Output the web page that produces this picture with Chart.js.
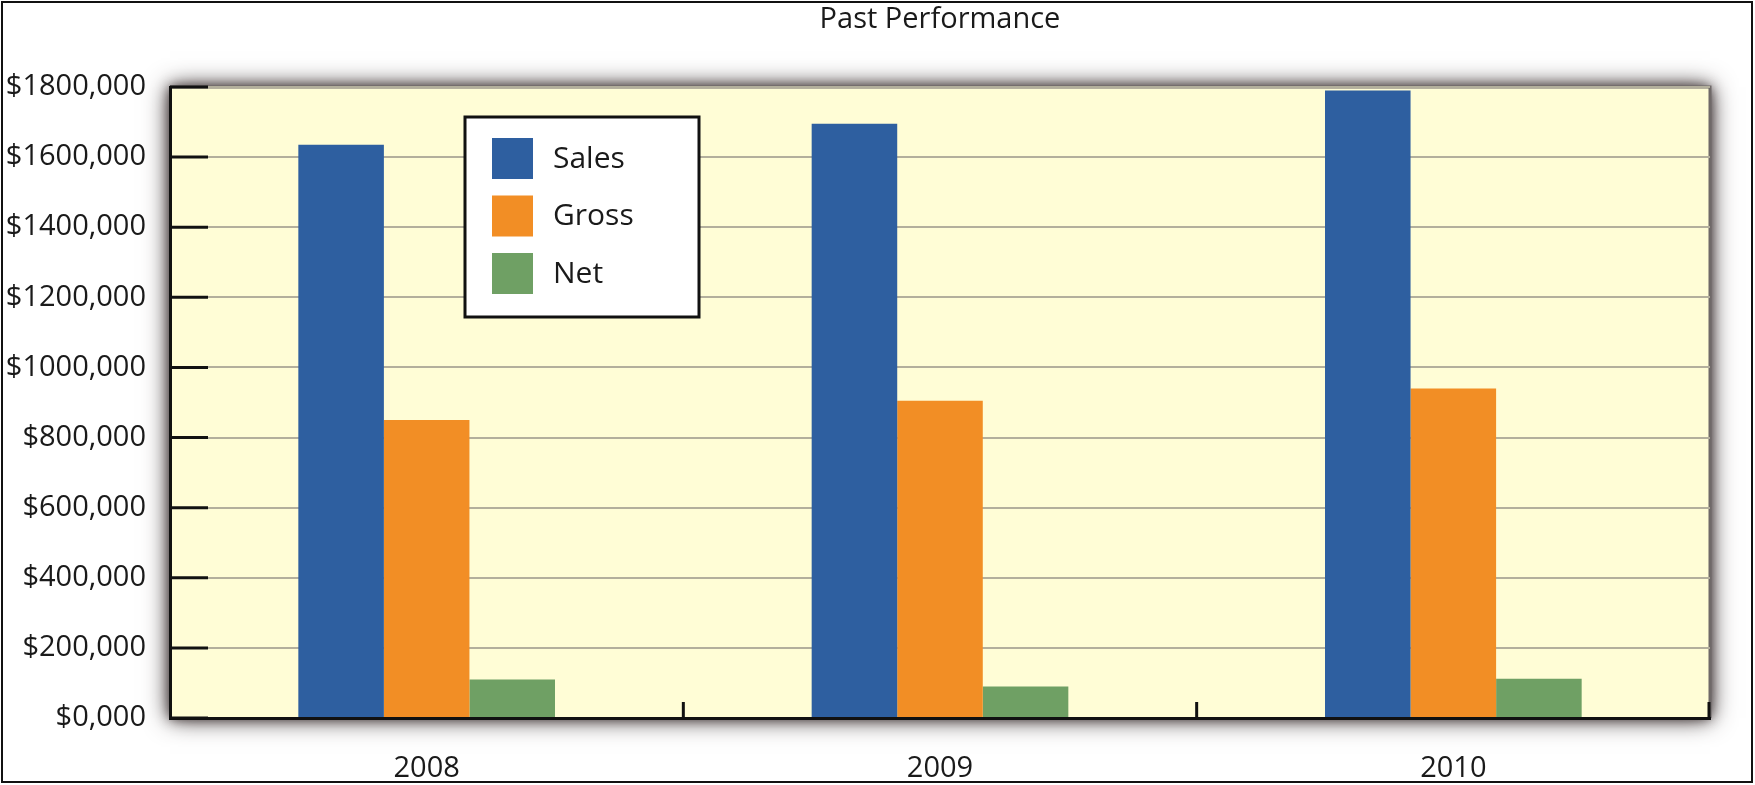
<!DOCTYPE html>
<html>
<head>
<meta charset="utf-8">
<script src="https://cdn.jsdelivr.net/npm/chart.js@4/dist/chart.umd.min.js"></script>
<style>
  html, body { margin: 0; padding: 0; background: #fff; }
  canvas { display: block; }
</style>
</head>
<body>
<canvas id="bar-chart" width="1755" height="785"></canvas>
<script>
const years = ['2008', '2009', '2010'];
const sales = [1635000, 1695000, 1790000];
const gross = [850000, 905000, 940000];
const net = [110000, 90000, 112000];
const yTickLabels = ['$0,000', '$200,000', '$400,000', '$600,000', '$800,000',
  '$1000,000', '$1200,000', '$1400,000', '$1600,000', '$1800,000'];
const chartTitle = 'Past Performance';

const FONT = "'Open Sans', 'DejaVu Sans', sans-serif";
const TEXT = '#1a1a1a';

// plot background with the grey glow, title over the plot, inside ticks, legend box, frame
const decorPlugin = {
  id: 'decor',
  beforeDraw(chart) {
    const { ctx, chartArea: a } = chart;
    ctx.save();
    ctx.fillStyle = '#FFFDD6';
    ctx.shadowColor = 'rgba(60, 50, 50, 1)';
    ctx.shadowBlur = 24;
    ctx.fillRect(a.left, a.top, a.right - a.left, a.bottom - a.top);
    ctx.shadowBlur = 12;
    ctx.fillRect(a.left, a.top, a.right - a.left, a.bottom - a.top);
    ctx.shadowBlur = 0;
    ctx.strokeStyle = '#6f6968';
    ctx.lineWidth = 3;
    ctx.beginPath();
    ctx.moveTo(a.left, a.top);
    ctx.lineTo(a.right, a.top);
    ctx.lineTo(a.right, a.bottom);
    ctx.stroke();
    ctx.restore();
  },
  afterDraw(chart) {
    const { ctx, chartArea: a, scales } = chart;
    ctx.save();

    // title, centred over the plot area
    ctx.fillStyle = TEXT;
    ctx.font = '29px ' + FONT;
    ctx.textAlign = 'center';
    ctx.textBaseline = 'middle';
    ctx.fillText(chartTitle, (a.left + a.right) / 2, 20);

    ctx.strokeStyle = '#111';
    ctx.lineWidth = 3;
    // y ticks drawn inwards
    scales.y.ticks.forEach(t => {
      const y = scales.y.getPixelForValue(t.value);
      ctx.beginPath();
      ctx.moveTo(a.left, y);
      ctx.lineTo(a.left + 38, y);
      ctx.stroke();
    });
    // category boundary ticks
    const step = scales.x.getPixelForValue(1) - scales.x.getPixelForValue(0);
    years.forEach((_, i) => {
      const x = Math.min(scales.x.getPixelForValue(i) + step / 2, a.right - 1);
      ctx.beginPath();
      ctx.moveTo(x, a.bottom);
      ctx.lineTo(x, a.bottom - 16);
      ctx.stroke();
    });

    // legend
    const lx = a.left + 295, ly = a.top + 30;
    ctx.fillStyle = '#fff';
    ctx.fillRect(lx, ly, 234, 200);
    ctx.strokeStyle = '#111';
    ctx.lineWidth = 3;
    ctx.strokeRect(lx, ly, 234, 200);
    ctx.font = '30px ' + FONT;
    ctx.textAlign = 'left';
    ctx.textBaseline = 'middle';
    chart.data.datasets.forEach((ds, i) => {
      const sy = ly + 21 + i * 57.5;
      ctx.fillStyle = ds.backgroundColor;
      ctx.fillRect(lx + 27, sy, 41, 41);
      ctx.fillStyle = TEXT;
      ctx.fillText(ds.label, lx + 88, sy + 21);
    });

    // outer frame
    ctx.lineWidth = 2;
    ctx.strokeStyle = '#111';
    ctx.strokeRect(2, 2, 1750, 780);
    ctx.restore();
  }
};

new Chart(document.getElementById('bar-chart'), {
  type: 'bar',
  data: {
    labels: years,
    datasets: [
      { label: 'Sales', data: sales, backgroundColor: '#2E5FA0' },
      { label: 'Gross', data: gross, backgroundColor: '#F28E25' },
      { label: 'Net', data: net, backgroundColor: '#6FA064' }
    ]
  },
  options: {
    responsive: false,
    animation: false,
    layout: { padding: { left: 0, right: 45, top: 87, bottom: 0 } },
    datasets: {
      bar: { categoryPercentage: 0.5, barPercentage: 1.0, borderWidth: 0 }
    },
    plugins: {
      legend: { display: false },
      tooltip: { enabled: false },
      title: { display: false }
    },
    scales: {
      x: {
        afterFit(scale) { scale.height = 67; },
        border: { display: true, color: '#111', width: 3 },
        grid: { display: false },
        ticks: {
          color: TEXT,
          padding: 25,
          font: { family: FONT, size: 29 }
        }
      },
      y: {
        min: 0,
        max: 1800000,
        afterFit(scale) { scale.width = 170; },
        border: { display: true, color: '#111', width: 3 },
        grid: {
          color: '#B3AF9C',
          lineWidth: 2,
          drawTicks: false,
          tickLength: 0
        },
        ticks: {
          stepSize: 200000,
          color: TEXT,
          padding: 24,
          font: { family: FONT, size: 29 },
          callback: (v, i) => yTickLabels[i]
        }
      }
    }
  },
  plugins: [decorPlugin]
});
</script>
</body>
</html>
